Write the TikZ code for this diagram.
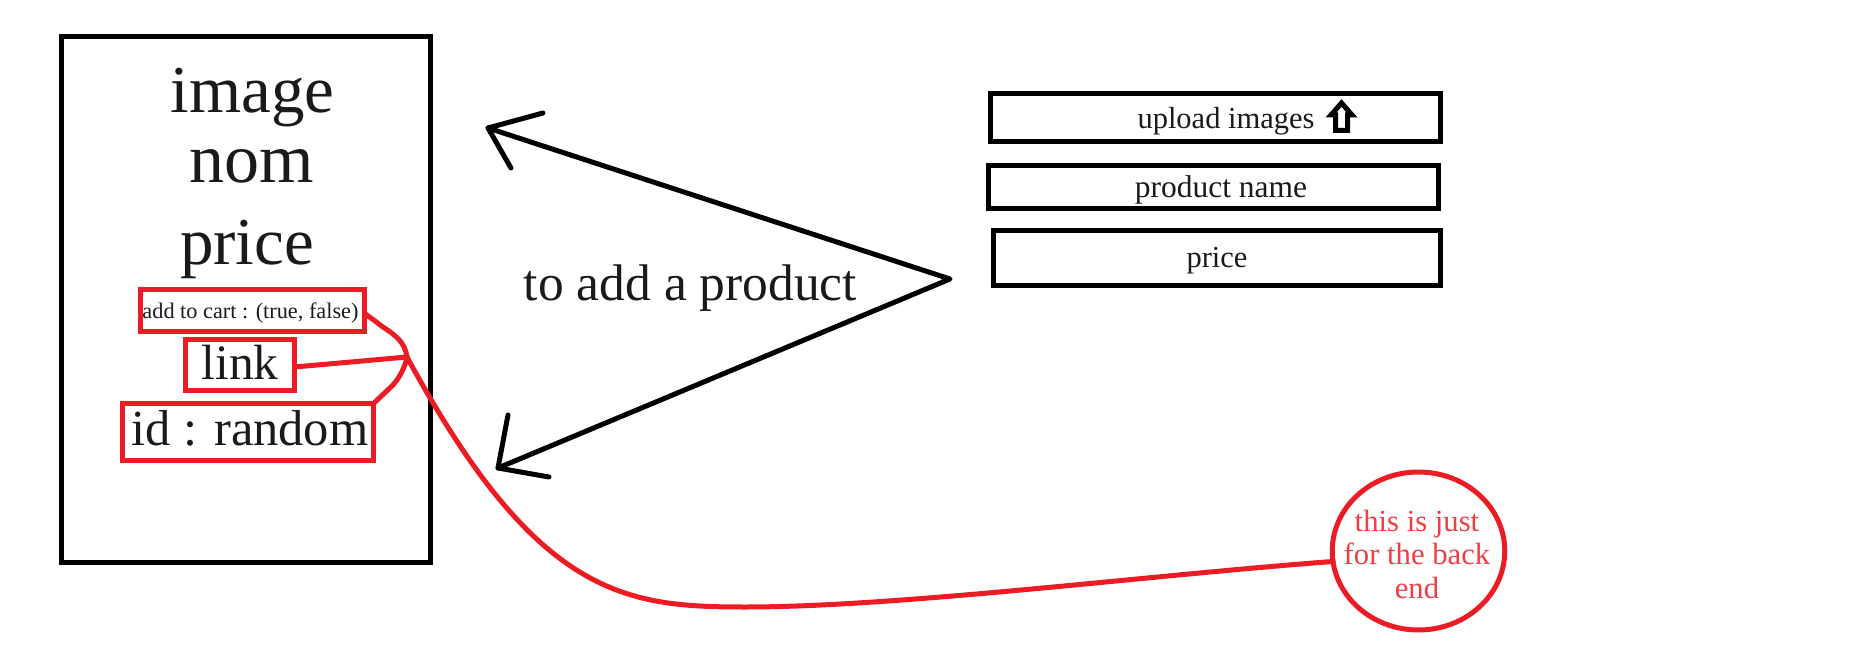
\documentclass[tikz,border=0pt]{standalone}
\usepackage{fontspec}
\setmainfont{Liberation Serif}
\usepackage{xcolor}
\usetikzlibrary{shapes.geometric}
\definecolor{paintred}{HTML}{ED1C24}
\definecolor{inkblack}{HTML}{1A1A1A}
\newcommand{\fsize}[1]{\fontsize{#1}{#1}\selectfont}
\tikzset{
  blackline/.style={line width=5pt,line cap=round,line join=round},
  redline/.style={line width=5pt,draw=paintred,line cap=round,line join=round},
  bigtext/.style={text=inkblack,anchor=base,inner sep=0pt,font=\fsize{67}},
  fieldbox/.style={draw,line width=5pt,rectangle,inner sep=0pt,outer sep=0pt,text=inkblack,font=\fsize{30.5}},
  backbox/.style={draw=paintred,line width=5pt,rectangle,inner sep=0pt,outer sep=0pt,text=inkblack}
}

\begin{document}
\begin{tikzpicture}[x=1pt,y=-1pt]
  \useasboundingbox (0,0) rectangle (1852,660);
  \node[draw,line width=5pt,rectangle,minimum width=369pt,minimum height=526pt] (card) at (246,299.5) {};
  \node[bigtext] (image) at (252.5,113) {image};
  \node[bigtext,font=\fsize{70}] (nom) at (251.5,183) {nom};
  \node[bigtext] (price) at (247,265) {price};
  \node[backbox,minimum width=224pt,minimum height=41.5pt,text height=20pt,text depth=4.5pt,font=\fsize{22.3}] (cart) at (252.5,310.25) {add to cart : (true, false)\hspace*{4pt}};
  \node[backbox,minimum width=109pt,minimum height=51pt,text height=36pt,text depth=8pt,font=\fsize{49.5}] (link) at (240,365) {link};
  \node[backbox,minimum width=251pt,minimum height=57pt,text height=36pt,text depth=10pt,font=\fsize{50.5}] (id) at (248,432) {\hspace*{4pt}id : random};
  \node[text=inkblack,anchor=base,inner sep=0pt,font=\fsize{51.5}] (add) at (690.5,301) {to add a product};
  \node[fieldbox,minimum width=450pt,minimum height=48pt,text height=26pt,text depth=3pt] (upload) at (1215.5,117.5) {\hspace*{21pt}upload images};
  \node[fieldbox,minimum width=450pt,minimum height=43pt,text height=26pt,text depth=4pt,font=\fsize{31.5}] (name) at (1213.5,187) {\hspace*{15pt}product name};
  \node[fieldbox,minimum width=447pt,minimum height=55pt,text height=26pt,text depth=6pt] (cost) at (1217,258) {price};
  \node[draw=paintred,line width=5pt,ellipse,inner sep=0pt,outer sep=0pt,minimum width=172.5pt,minimum height=158pt] (back) at (1418.5,551) {};
  \node[text=paintred!85!white,align=center,inner sep=0pt,font=\fontsize{30.7}{33.5}\selectfont] (backtext) at (1417,554) {this is just\\for the back\\end};
  \draw[line width=5pt,line join=miter] (1341.5,103)--(1352,115)--(1347.5,115)--(1347.5,130.5)--(1335.5,130.5)--(1335.5,115)--(1331,115)--cycle;
  \coordinate (fork) at (950,279);
  \coordinate (up) at (488,128);
  \coordinate (down) at (498,468);
  \coordinate (hub) at (407,357);
  \draw[blackline] (543,113)--(up)--(fork)--(down)--(549,477);
  \draw[blackline] (511,168)--(up);
  \draw[blackline] (508,415)--(down);
  \draw[redline] ([yshift=-3pt]cart.east) -- (383,327) .. controls (395,335) and (405,342) .. (hub);
  \draw[redline] ([yshift=-2pt]link.east) -- (hub);
  \draw[redline] (id.north east) -- (393,385) .. controls (400,377) and (405,367) .. (hub);
  \draw[redline] (hub) .. controls (537,597) and (625,607) .. (745,607) .. controls (900,607) and (1150,575) .. (back.187);
\end{tikzpicture}
\end{document}
